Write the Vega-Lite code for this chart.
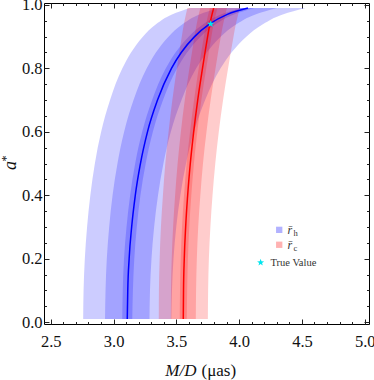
{
  "$schema": "https://vega.github.io/schema/vega-lite/v6.json",
  "width": 325,
  "height": 321,
  "autosize": "none",
  "padding": {"left": 44, "top": 3, "right": 5, "bottom": 56},
  "background": "white",
  "config": {
    "font": "Liberation Serif",
    "view": {"stroke": "black", "strokeWidth": 1},
    "axis": {"labelFont": "'Liberation Serif', 'Times New Roman', serif", "titleFont": "'Liberation Serif', 'Times New Roman', serif", "labelColor": "#111", "titleColor": "#111", "tickColor": "#222", "grid": false, "domain": false}
  },
  "datasets": {
    "bands": [
      {"s":"h","b":3,"a":0.01,"lo":2.758,"hi":3.460},{"s":"h","b":3,"a":0.1,"lo":2.761,"hi":3.465},{"s":"h","b":3,"a":0.2,"lo":2.771,"hi":3.477},{"s":"h","b":3,"a":0.3,"lo":2.789,"hi":3.499},{"s":"h","b":3,"a":0.4,"lo":2.815,"hi":3.532},{"s":"h","b":3,"a":0.5,"lo":2.851,"hi":3.577},{"s":"h","b":3,"a":0.6,"lo":2.901,"hi":3.640},{"s":"h","b":3,"a":0.7,"lo":2.972,"hi":3.729},{"s":"h","b":3,"a":0.8,"lo":3.070,"hi":3.852},{"s":"h","b":3,"a":0.85,"lo":3.139,"hi":3.939},{"s":"h","b":3,"a":0.9,"lo":3.233,"hi":4.057},{"s":"h","b":3,"a":0.94,"lo":3.340,"hi":4.192},{"s":"h","b":3,"a":0.97,"lo":3.465,"hi":4.347},{"s":"h","b":3,"a":0.99,"lo":3.610,"hi":4.530},
      {"s":"h","b":2,"a":0.01,"lo":2.932,"hi":3.286},{"s":"h","b":2,"a":0.1,"lo":2.936,"hi":3.290},{"s":"h","b":2,"a":0.2,"lo":2.946,"hi":3.302},{"s":"h","b":2,"a":0.3,"lo":2.965,"hi":3.323},{"s":"h","b":2,"a":0.4,"lo":2.992,"hi":3.354},{"s":"h","b":2,"a":0.5,"lo":3.031,"hi":3.397},{"s":"h","b":2,"a":0.6,"lo":3.084,"hi":3.456},{"s":"h","b":2,"a":0.7,"lo":3.159,"hi":3.541},{"s":"h","b":2,"a":0.8,"lo":3.264,"hi":3.658},{"s":"h","b":2,"a":0.85,"lo":3.337,"hi":3.741},{"s":"h","b":2,"a":0.9,"lo":3.437,"hi":3.853},{"s":"h","b":2,"a":0.94,"lo":3.551,"hi":3.981},{"s":"h","b":2,"a":0.97,"lo":3.683,"hi":4.129},{"s":"h","b":2,"a":0.99,"lo":3.838,"hi":4.302},
      {"s":"h","b":1,"a":0.01,"lo":3.069,"hi":3.149},{"s":"h","b":1,"a":0.1,"lo":3.073,"hi":3.154},{"s":"h","b":1,"a":0.2,"lo":3.083,"hi":3.165},{"s":"h","b":1,"a":0.3,"lo":3.103,"hi":3.185},{"s":"h","b":1,"a":0.4,"lo":3.132,"hi":3.214},{"s":"h","b":1,"a":0.5,"lo":3.172,"hi":3.256},{"s":"h","b":1,"a":0.6,"lo":3.228,"hi":3.313},{"s":"h","b":1,"a":0.7,"lo":3.307,"hi":3.394},{"s":"h","b":1,"a":0.8,"lo":3.416,"hi":3.506},{"s":"h","b":1,"a":0.85,"lo":3.493,"hi":3.585},{"s":"h","b":1,"a":0.9,"lo":3.598,"hi":3.692},{"s":"h","b":1,"a":0.94,"lo":3.717,"hi":3.815},{"s":"h","b":1,"a":0.97,"lo":3.855,"hi":3.957},{"s":"h","b":1,"a":0.99,"lo":4.017,"hi":4.123},
      {"s":"c","b":3,"a":0.01,"lo":3.360,"hi":3.751},{"s":"c","b":3,"a":0.1,"lo":3.361,"hi":3.753},{"s":"c","b":3,"a":0.2,"lo":3.367,"hi":3.759},{"s":"c","b":3,"a":0.3,"lo":3.377,"hi":3.771},{"s":"c","b":3,"a":0.4,"lo":3.393,"hi":3.788},{"s":"c","b":3,"a":0.5,"lo":3.412,"hi":3.810},{"s":"c","b":3,"a":0.6,"lo":3.438,"hi":3.838},{"s":"c","b":3,"a":0.7,"lo":3.468,"hi":3.872},{"s":"c","b":3,"a":0.8,"lo":3.504,"hi":3.912},{"s":"c","b":3,"a":0.85,"lo":3.523,"hi":3.933},{"s":"c","b":3,"a":0.9,"lo":3.543,"hi":3.955},{"s":"c","b":3,"a":0.94,"lo":3.560,"hi":3.974},{"s":"c","b":3,"a":0.97,"lo":3.576,"hi":3.992},{"s":"c","b":3,"a":0.99,"lo":3.588,"hi":4.006},
      {"s":"c","b":2,"a":0.01,"lo":3.456,"hi":3.655},{"s":"c","b":2,"a":0.1,"lo":3.457,"hi":3.657},{"s":"c","b":2,"a":0.2,"lo":3.463,"hi":3.663},{"s":"c","b":2,"a":0.3,"lo":3.474,"hi":3.674},{"s":"c","b":2,"a":0.4,"lo":3.490,"hi":3.691},{"s":"c","b":2,"a":0.5,"lo":3.510,"hi":3.712},{"s":"c","b":2,"a":0.6,"lo":3.536,"hi":3.740},{"s":"c","b":2,"a":0.7,"lo":3.567,"hi":3.773},{"s":"c","b":2,"a":0.8,"lo":3.604,"hi":3.812},{"s":"c","b":2,"a":0.85,"lo":3.624,"hi":3.832},{"s":"c","b":2,"a":0.9,"lo":3.644,"hi":3.854},{"s":"c","b":2,"a":0.94,"lo":3.662,"hi":3.873},{"s":"c","b":2,"a":0.97,"lo":3.678,"hi":3.890},{"s":"c","b":2,"a":0.99,"lo":3.691,"hi":3.903},
      {"s":"c","b":1,"a":0.01,"lo":3.527,"hi":3.583},{"s":"c","b":1,"a":0.1,"lo":3.529,"hi":3.586},{"s":"c","b":1,"a":0.2,"lo":3.535,"hi":3.592},{"s":"c","b":1,"a":0.3,"lo":3.545,"hi":3.603},{"s":"c","b":1,"a":0.4,"lo":3.561,"hi":3.619},{"s":"c","b":1,"a":0.5,"lo":3.582,"hi":3.640},{"s":"c","b":1,"a":0.6,"lo":3.609,"hi":3.667},{"s":"c","b":1,"a":0.7,"lo":3.641,"hi":3.699},{"s":"c","b":1,"a":0.8,"lo":3.678,"hi":3.738},{"s":"c","b":1,"a":0.85,"lo":3.698,"hi":3.758},{"s":"c","b":1,"a":0.9,"lo":3.719,"hi":3.779},{"s":"c","b":1,"a":0.94,"lo":3.737,"hi":3.797},{"s":"c","b":1,"a":0.97,"lo":3.754,"hi":3.814},{"s":"c","b":1,"a":0.99,"lo":3.767,"hi":3.827}
    ],
    "lines": [
      {"s":"h","a":0.01,"c":3.109},{"s":"h","a":0.1,"c":3.113},{"s":"h","a":0.2,"c":3.124},{"s":"h","a":0.3,"c":3.144},{"s":"h","a":0.4,"c":3.173},{"s":"h","a":0.5,"c":3.214},{"s":"h","a":0.6,"c":3.270},{"s":"h","a":0.7,"c":3.350},{"s":"h","a":0.8,"c":3.461},{"s":"h","a":0.85,"c":3.539},{"s":"h","a":0.9,"c":3.645},{"s":"h","a":0.94,"c":3.766},{"s":"h","a":0.97,"c":3.906},{"s":"h","a":0.99,"c":4.070},
      {"s":"c","a":0.01,"c":3.555},{"s":"c","a":0.1,"c":3.557},{"s":"c","a":0.2,"c":3.563},{"s":"c","a":0.3,"c":3.574},{"s":"c","a":0.4,"c":3.590},{"s":"c","a":0.5,"c":3.611},{"s":"c","a":0.6,"c":3.638},{"s":"c","a":0.7,"c":3.670},{"s":"c","a":0.8,"c":3.708},{"s":"c","a":0.85,"c":3.728},{"s":"c","a":0.9,"c":3.749},{"s":"c","a":0.94,"c":3.767},{"s":"c","a":0.97,"c":3.784},{"s":"c","a":0.99,"c":3.797}
    ],
    "truth": [{"x": 3.773, "a": 0.94}],
    "legsq": [{"s":"h","a":0.291},{"s":"c","a":0.244}],
    "legtxt": [{"t":"r\u0304","sub":"h","a":0.291},{"t":"r\u0304","sub":"c","a":0.244}],
    "legstar": [{"t":"True Value","a":0.188}],
    "ax": [{"x": 3.0, "a": 0.5}]
  },
  "resolve": {"axis": {"x": "independent", "y": "independent"}},
  "layer": [
    {
      "data": {"name": "bands"},
      "mark": {"type": "area", "orient": "horizontal", "fillOpacity": 0.2, "interpolate": "monotone"},
      "encoding": {
        "y": {"field": "a", "type": "quantitative", "scale": {"domain": [-0.0057, 1.006], "nice": false, "zero": false}, "axis": null},
        "x": {"field": "lo", "type": "quantitative", "stack": null, "scale": {"domain": [2.446, 5.034], "nice": false, "zero": false}, "axis": null},
        "x2": {"field": "hi"},
        "color": {"field": "s", "type": "nominal", "scale": {"domain": ["h", "c"], "range": ["#0000ff", "#ff0000"]}, "legend": null},
        "detail": {"field": "b"}
      }
    },
    {
      "data": {"name": "lines"},
      "mark": {"type": "line", "strokeWidth": 1.5, "interpolate": "monotone", "orient": "horizontal"},
      "encoding": {
        "y": {"field": "a", "type": "quantitative", "scale": {"domain": [-0.0057, 1.006], "nice": false, "zero": false}, "axis": null},
        "x": {"field": "c", "type": "quantitative", "scale": {"domain": [2.446, 5.034], "nice": false, "zero": false}, "axis": null},
        "color": {"field": "s", "type": "nominal", "scale": {"domain": ["h", "c"], "range": ["#0000e0", "#ff2a2a"]}, "legend": null},
        "order": {"field": "a", "type": "quantitative"}
      }
    },
    {
      "data": {"name": "truth"},
      "mark": {"type": "point", "filled": true, "color": "#00e5ee", "opacity": 1, "size": 60, "shape": "M0,-1L0.235,-0.324L0.951,-0.309L0.38,0.124L0.588,0.809L0,0.4L-0.588,0.809L-0.38,0.124L-0.951,-0.309L-0.235,-0.324Z"},
      "encoding": {
        "y": {"field": "a", "type": "quantitative", "scale": {"domain": [-0.0057, 1.006], "nice": false, "zero": false}, "axis": null},
        "x": {"field": "x", "type": "quantitative", "scale": {"domain": [2.446, 5.034], "nice": false, "zero": false}, "axis": null}
      }
    },
    {
      "data": {"name": "legsq"},
      "mark": {"type": "square", "size": 40, "opacity": 0.3},
      "encoding": {
        "y": {"field": "a", "type": "quantitative", "scale": {"domain": [-0.0057, 1.006], "nice": false, "zero": false}, "axis": null},
        "x": {"datum": 4.319, "type": "quantitative", "scale": {"domain": [2.446, 5.034], "nice": false, "zero": false}, "axis": null},
        "color": {"field": "s", "type": "nominal", "scale": {"domain": ["h", "c"], "range": ["#0000ff", "#ff0000"]}, "legend": null}
      }
    },
    {
      "data": {"name": "legstar"},
      "mark": {"type": "point", "filled": true, "color": "#00e5ee", "opacity": 1, "size": 55, "shape": "M0,-1L0.235,-0.324L0.951,-0.309L0.38,0.124L0.588,0.809L0,0.4L-0.588,0.809L-0.38,0.124L-0.951,-0.309L-0.235,-0.324Z"},
      "encoding": {
        "y": {"field": "a", "type": "quantitative", "scale": {"domain": [-0.0057, 1.006], "nice": false, "zero": false}, "axis": null},
        "x": {"datum": 4.171, "type": "quantitative", "scale": {"domain": [2.446, 5.034], "nice": false, "zero": false}, "axis": null}
      }
    },
    {
      "data": {"name": "legstar"},
      "mark": {"type": "text", "align": "left", "baseline": "middle", "font": "Liberation Serif", "fontSize": 10.5, "color": "#333"},
      "encoding": {
        "y": {"field": "a", "type": "quantitative", "scale": {"domain": [-0.0057, 1.006], "nice": false, "zero": false}, "axis": null},
        "x": {"datum": 4.25, "type": "quantitative", "scale": {"domain": [2.446, 5.034], "nice": false, "zero": false}, "axis": null},
        "text": {"field": "t"}
      }
    },
    {
      "data": {"name": "legtxt"},
      "mark": {"type": "text", "align": "left", "baseline": "middle", "font": "Liberation Serif", "fontStyle": "italic", "fontSize": 12, "color": "#333"},
      "encoding": {
        "y": {"field": "a", "type": "quantitative", "scale": {"domain": [-0.0057, 1.006], "nice": false, "zero": false}, "axis": null},
        "x": {"datum": 4.386, "type": "quantitative", "scale": {"domain": [2.446, 5.034], "nice": false, "zero": false}, "axis": null},
        "text": {"field": "t"}
      }
    },
    {
      "data": {"name": "legtxt"},
      "mark": {"type": "text", "align": "left", "baseline": "middle", "font": "Liberation Serif", "fontSize": 8.5, "color": "#333", "dx": 6, "dy": 3},
      "encoding": {
        "y": {"field": "a", "type": "quantitative", "scale": {"domain": [-0.0057, 1.006], "nice": false, "zero": false}, "axis": null},
        "x": {"datum": 4.386, "type": "quantitative", "scale": {"domain": [2.446, 5.034], "nice": false, "zero": false}, "axis": null},
        "text": {"field": "sub"}
      }
    },
    {
      "data": {"name": "ax"},
      "mark": {"type": "point", "opacity": 0},
      "encoding": {
        "x": {"field": "x", "type": "quantitative", "scale": {"domain": [2.446, 5.034], "nice": false, "zero": false},
          "axis": {"orient": "bottom", "values": [2.5, 3, 3.5, 4, 4.5, 5], "format": ".1f", "ticks": false, "labelPadding": 9, "labelFont": "'Liberation Serif', 'Times New Roman', serif", "labelFontSize": 16.5, "labelFlush": false,
            "title": "M/D", "titleFont": "'Liberation Serif', 'Times New Roman', serif", "titleFontStyle": "italic", "titleFontWeight": "normal", "titleFontSize": 17, "titleAnchor": null, "titleX": 152, "titleY": 46, "titleAlign": "right", "titleBaseline": "middle"}},
        "y": {"field": "a", "type": "quantitative", "scale": {"domain": [-0.0057, 1.006], "nice": false, "zero": false},
          "axis": {"orient": "left", "values": [0, 0.2, 0.4, 0.6, 0.8, 1], "format": ".1f", "ticks": false, "labelPadding": 2, "labelFont": "'Liberation Serif', 'Times New Roman', serif", "labelFontSize": 16.5, "labelFlush": false, "labelBaseline": "middle",
            "title": "a", "titleFont": "'Liberation Serif', 'Times New Roman', serif", "titleFontStyle": "italic", "titleFontWeight": "normal", "titleFontSize": 18, "titleAngle": -90, "titleX": -34, "titleY": 162, "titleAlign": "center", "titleBaseline": "middle"}}
      }
    },
    {
      "data": {"name": "ax"},
      "mark": {"type": "point", "opacity": 0},
      "encoding": {
        "x": {"field": "x", "type": "quantitative", "scale": {"domain": [2.446, 5.034], "nice": false, "zero": false},
          "axis": {"orient": "bottom", "values": [2.5, 3, 3.5, 4, 4.5, 5], "labels": false, "tickSize": -5, "tickWidth": 1,
            "title": "(μas)", "titleFont": "'Liberation Serif', 'Times New Roman', serif", "titleFontWeight": "normal", "titleFontSize": 17, "titleAnchor": null, "titleX": 157, "titleY": 46, "titleAlign": "left", "titleBaseline": "middle"}},
        "y": {"field": "a", "type": "quantitative", "scale": {"domain": [-0.0057, 1.006], "nice": false, "zero": false},
          "axis": {"orient": "left", "values": [0, 0.2, 0.4, 0.6, 0.8, 1], "labels": false, "tickSize": -5, "tickWidth": 1,
            "title": "*", "titleFont": "'Liberation Serif', 'Times New Roman', serif", "titleFontWeight": "normal", "titleFontSize": 12, "titleAngle": -90, "titleX": -39, "titleY": 155, "titleAlign": "center", "titleBaseline": "middle"}}
      }
    },
    {
      "data": {"name": "ax"},
      "mark": {"type": "point", "opacity": 0},
      "encoding": {
        "x": {"field": "x", "type": "quantitative", "scale": {"domain": [2.446, 5.034], "nice": false, "zero": false},
          "axis": {"orient": "bottom", "values": [2.6, 2.7, 2.8, 2.9, 3.1, 3.2, 3.3, 3.4, 3.6, 3.7, 3.8, 3.9, 4.1, 4.2, 4.3, 4.4, 4.6, 4.7, 4.8, 4.9], "labels": false, "tickSize": -2.5, "tickWidth": 1, "title": null}},
        "y": {"field": "a", "type": "quantitative", "scale": {"domain": [-0.0057, 1.006], "nice": false, "zero": false},
          "axis": {"orient": "left", "values": [0.05, 0.1, 0.15, 0.25, 0.3, 0.35, 0.45, 0.5, 0.55, 0.65, 0.7, 0.75, 0.85, 0.9, 0.95], "labels": false, "tickSize": -2.5, "tickWidth": 1, "title": null}}
      }
    },
    {
      "data": {"name": "ax"},
      "mark": {"type": "point", "opacity": 0},
      "encoding": {
        "x": {"field": "x", "type": "quantitative", "scale": {"domain": [2.446, 5.034], "nice": false, "zero": false},
          "axis": {"orient": "top", "values": [2.5, 3, 3.5, 4, 4.5, 5], "labels": false, "tickSize": -5, "tickWidth": 1, "title": null}},
        "y": {"field": "a", "type": "quantitative", "scale": {"domain": [-0.0057, 1.006], "nice": false, "zero": false},
          "axis": {"orient": "right", "values": [0, 0.2, 0.4, 0.6, 0.8, 1], "labels": false, "tickSize": -5, "tickWidth": 1, "title": null}}
      }
    },
    {
      "data": {"name": "ax"},
      "mark": {"type": "point", "opacity": 0},
      "encoding": {
        "x": {"field": "x", "type": "quantitative", "scale": {"domain": [2.446, 5.034], "nice": false, "zero": false},
          "axis": {"orient": "top", "values": [2.6, 2.7, 2.8, 2.9, 3.1, 3.2, 3.3, 3.4, 3.6, 3.7, 3.8, 3.9, 4.1, 4.2, 4.3, 4.4, 4.6, 4.7, 4.8, 4.9], "labels": false, "tickSize": -2.5, "tickWidth": 1, "title": null}},
        "y": {"field": "a", "type": "quantitative", "scale": {"domain": [-0.0057, 1.006], "nice": false, "zero": false},
          "axis": {"orient": "right", "values": [0.05, 0.1, 0.15, 0.25, 0.3, 0.35, 0.45, 0.5, 0.55, 0.65, 0.7, 0.75, 0.85, 0.9, 0.95], "labels": false, "tickSize": -2.5, "tickWidth": 1, "title": null}}
      }
    }
  ]
}
